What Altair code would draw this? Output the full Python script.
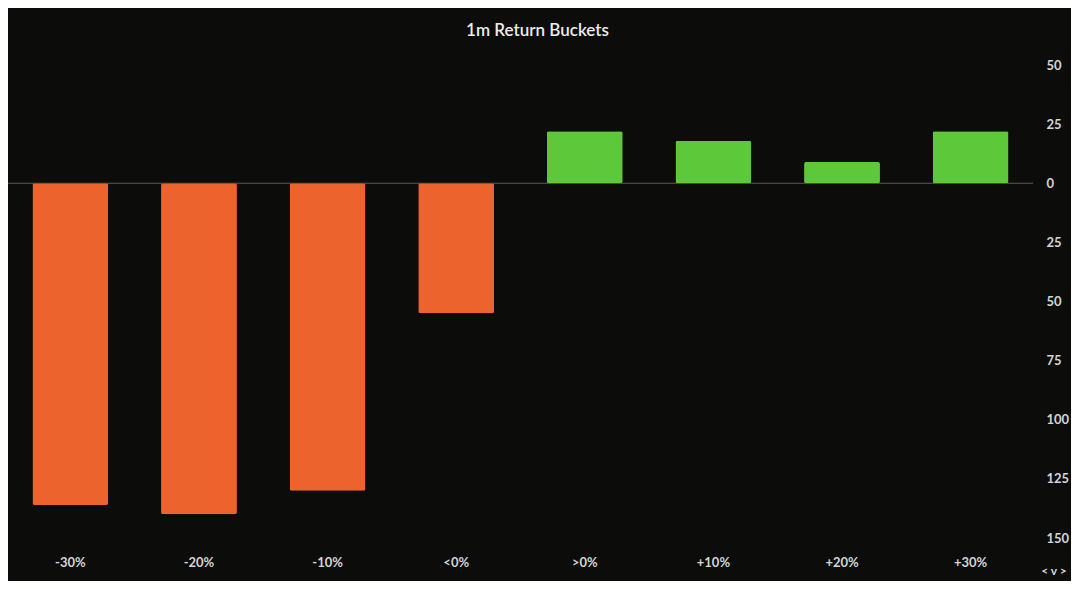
import altair as alt
import pandas as pd

buckets = ["-30%", "-20%", "-10%", "<0%", ">0%", "+10%", "+20%", "+30%"]
values = [-136, -140, -130, -55, 22, 18, 9, 22]
y_ticks = [50, 25, 0, -25, -50, -75, -100, -125, -150]

ORANGE = "#ec632e"
GREEN = "#5cc83a"
BG = "#0c0d0b"

df = pd.DataFrame({"bucket": buckets, "value": values})
df["color"] = [GREEN if v >= 0 else ORANGE for v in values]

W, H = 1025, 473

bars = alt.Chart(df).mark_bar(cornerRadius=2).encode(
    x=alt.X("bucket:N", sort=buckets, title=None,
            scale=alt.Scale(paddingInner=0.41, paddingOuter=0.19),
            axis=alt.Axis(orient="bottom", labelAngle=0, ticks=False, domain=False,
                          labelPadding=18, labelColor="#d4d4d4", labelFontSize=13,
                          labelFont="Lato", labelFontWeight="bold")),
    y=alt.Y("value:Q", title=None,
            scale=alt.Scale(domain=[-150, 50], nice=False, zero=True),
            axis=alt.Axis(orient="right", values=y_ticks, labelExpr="abs(datum.value)",
                          ticks=False, domain=False, grid=False, labelPadding=13,
                          labelAlign="left", labelColor="#d4d4d4", labelFontSize=13,
                          labelFont="Lato", labelFontWeight="bold")),
    color=alt.Color("color:N", scale=None, legend=None),
)

zero = alt.Chart(pd.DataFrame({"z": [0]})).mark_rule(color="#5a5a5a", strokeWidth=1).encode(
    y="z:Q"
)

nav = alt.Chart(pd.DataFrame({"t": ["< v >"]})).mark_text(
    color="#d4d4d4", fontSize=12, font="Lato", fontWeight="bold", align="center", baseline="middle"
).encode(text="t:N", x=alt.value(1046), y=alt.value(506))

chart = alt.layer(zero, bars, nav).properties(
    width=W, height=H,
    title=alt.TitleParams("1m Return Buckets", color="#ececec", fontSize=17, font="Lato",
                          fontWeight=600, anchor="middle", offset=19, dx=17),
    background=BG,
    padding={"left": 0, "top": 57, "right": 38, "bottom": 43},
    autosize=alt.AutoSizeParams(type="none"),
).configure_view(stroke=None)

chart.save("out.html", embed_options={"renderer": "svg", "actions": False})
